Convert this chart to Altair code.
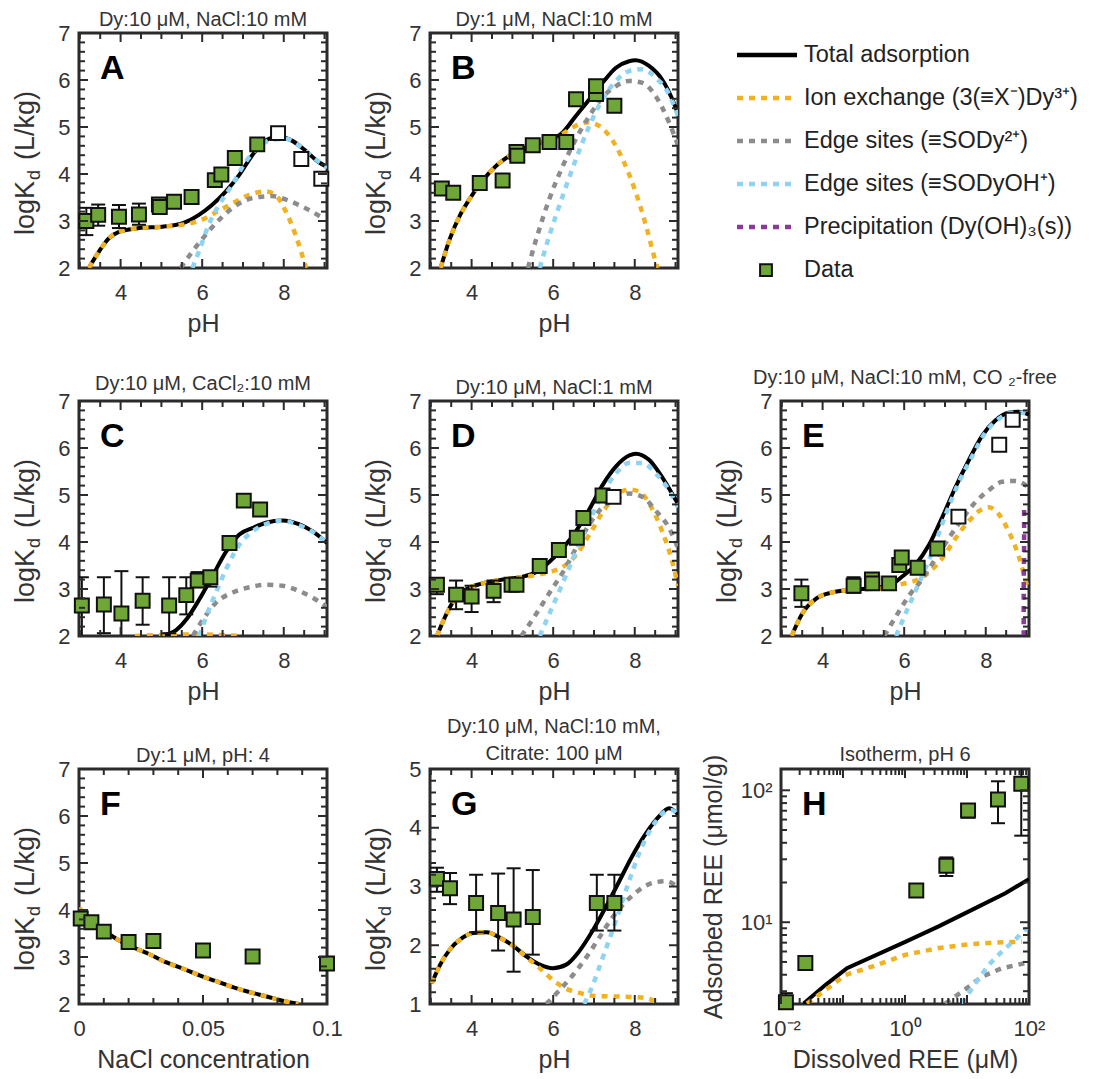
import altair as alt
import pandas as pd

FONT = "Liberation Sans"
TXT = "#333333"
FRAME = "#2b2b2b"
C_TOTAL = "#000000"
C_ION = "#F2B120"
C_EDGE1 = "#8C8C8C"
C_EDGE2 = "#8ED4F2"
C_PREC = "#8B3A9A"
C_DATA = "#6EA637"
W, H = 248, 235
PH_DOM = [2.98, 9.06]

# ---------------- Panel A: Dy 10 uM, NaCl 10 mM ----------------
A_px = [3.16, 3.45, 3.96, 4.45, 4.94, 4.96, 5.31, 5.74, 6.31, 6.47, 6.80, 7.35, 7.86, 8.43, 8.92]
A_py = [3.00, 3.13, 3.09, 3.14, 3.35, 3.30, 3.41, 3.51, 3.87, 3.99, 4.34, 4.63, 4.87, 4.32, 3.90]
A_open = [0, 0, 0, 0, 0, 0, 0, 0, 0, 0, 0, 0, 1, 1, 1]
A_ex = [3.16, 3.45, 3.96, 4.45]
A_elo = [2.70, 2.90, 2.85, 2.92]
A_ehi = [3.28, 3.35, 3.34, 3.37]
A_total = [(3.22, 2.0), (3.47, 2.35), (3.71, 2.63), (3.96, 2.77), (4.45, 2.85), (5.02, 2.88),
           (5.51, 2.95), (5.92, 3.13), (6.24, 3.34), (6.57, 3.62), (6.90, 3.97), (7.22, 4.39),
           (7.55, 4.71), (7.88, 4.80), (8.20, 4.71), (8.53, 4.50), (8.86, 4.25), (9.06, 4.15)]
A_ion = [(3.22, 2.0), (3.47, 2.35), (3.71, 2.63), (3.96, 2.77), (4.45, 2.85), (5.02, 2.88),
         (5.51, 2.92), (5.92, 3.0), (6.33, 3.18), (6.73, 3.37), (7.14, 3.55), (7.55, 3.63),
         (7.80, 3.55), (8.04, 3.22), (8.29, 2.70), (8.45, 2.28), (8.55, 2.0)]
A_edge1 = [(5.47, 2.0), (5.76, 2.35), (6.08, 2.70), (6.41, 3.02), (6.73, 3.27), (7.06, 3.44),
           (7.39, 3.51), (7.71, 3.53), (8.04, 3.46), (8.37, 3.34), (8.69, 3.20), (9.0, 3.04)]
A_edge2 = [(5.76, 2.0), (5.92, 2.35), (6.16, 2.92), (6.41, 3.34), (6.73, 3.76), (7.06, 4.25),
           (7.39, 4.58), (7.71, 4.73), (8.04, 4.75), (8.37, 4.61), (8.69, 4.38), (9.06, 4.13)]

# ---------------- Panel B: Dy 1 uM, NaCl 10 mM ----------------
B_px = [3.27, 3.55, 4.20, 4.76, 5.10, 5.12, 5.50, 5.91, 6.32, 6.56, 7.05, 7.05, 7.50]
B_py = [3.69, 3.60, 3.81, 3.86, 4.47, 4.39, 4.61, 4.68, 4.68, 5.59, 5.70, 5.87, 5.45]
B_open = [0] * 13
B_total = [(3.24, 2.0), (3.47, 2.63), (3.72, 3.13), (3.96, 3.48), (4.28, 3.87), (4.61, 4.18),
           (4.93, 4.39), (5.26, 4.54), (5.59, 4.64), (5.91, 4.71), (6.24, 4.89), (6.56, 5.24),
           (6.89, 5.59), (7.21, 5.94), (7.54, 6.26), (7.86, 6.40), (8.02, 6.42), (8.35, 6.30),
           (8.67, 6.01), (8.92, 5.59), (9.06, 5.28)]
B_ion = [(3.24, 2.0), (3.47, 2.63), (3.72, 3.13), (3.96, 3.48), (4.28, 3.87), (4.61, 4.18),
         (4.93, 4.39), (5.26, 4.54), (5.59, 4.64), (5.91, 4.70), (6.24, 4.86), (6.56, 5.03),
         (6.85, 5.10), (7.05, 5.06), (7.37, 4.82), (7.70, 4.32), (8.02, 3.62), (8.27, 2.92),
         (8.51, 2.14), (8.56, 2.0)]
B_edge1 = [(5.38, 2.0), (5.59, 2.63), (5.91, 3.48), (6.24, 4.18), (6.56, 4.75), (6.89, 5.24),
           (7.21, 5.63), (7.54, 5.87), (7.86, 5.98), (8.19, 5.94), (8.51, 5.66), (8.84, 5.10),
           (9.06, 4.61)]
B_edge2 = [(5.67, 2.0), (5.91, 2.70), (6.24, 3.55), (6.56, 4.32), (6.89, 5.03), (7.21, 5.59),
           (7.54, 5.98), (7.86, 6.19), (8.19, 6.23), (8.51, 6.05), (8.84, 5.70), (9.06, 5.24)]

# ---------------- Panel C: Dy 10 uM, CaCl2 10 mM ----------------
C_px = [3.05, 3.59, 4.02, 4.54, 5.19, 5.61, 5.89, 6.20, 6.67, 7.02, 7.42]
C_py = [2.65, 2.67, 2.48, 2.75, 2.65, 2.87, 3.18, 3.25, 3.98, 4.88, 4.69]
C_open = [0] * 11
C_ex = [3.05, 3.59, 4.02, 4.54, 5.19, 5.61, 5.89, 6.20]
C_elo = [1.95, 2.06, 1.95, 2.24, 2.06, 2.46, 3.04, 3.05]
C_ehi = [3.25, 3.25, 3.38, 3.25, 3.25, 3.25, 3.36, 3.33]
C_total = [(5.0, 2.0), (5.37, 2.13), (5.61, 2.35), (5.93, 2.78), (6.26, 3.29), (6.59, 3.80),
           (6.91, 4.16), (7.24, 4.30), (7.56, 4.41), (7.97, 4.46), (8.37, 4.38), (8.70, 4.23),
           (9.06, 3.98)]
C_ion = [(4.35, 2.0), (5.0, 2.02), (5.5, 2.03), (6.0, 2.03), (6.5, 2.02), (6.96, 2.0)]
C_edge1 = [(5.77, 2.0), (6.02, 2.35), (6.34, 2.71), (6.76, 2.93), (7.17, 3.04), (7.56, 3.09),
           (7.97, 3.07), (8.37, 2.96), (8.70, 2.82), (9.06, 2.62)]
C_edge2 = [(5.93, 2.0), (6.10, 2.42), (6.34, 2.93), (6.59, 3.43), (6.91, 3.94), (7.24, 4.23),
           (7.56, 4.38), (7.97, 4.45), (8.37, 4.36), (8.70, 4.22), (9.06, 3.98)]

# ---------------- Panel D: Dy 10 uM, NaCl 1 mM ----------------
D_px = [3.15, 3.62, 4.00, 4.54, 4.98, 5.10, 5.67, 6.14, 6.58, 6.74, 7.21, 7.48]
D_py = [3.09, 2.88, 2.84, 2.96, 3.09, 3.09, 3.49, 3.83, 4.09, 4.51, 4.99, 4.96]
D_open = [0, 0, 0, 0, 0, 0, 0, 0, 0, 0, 0, 1]
D_ex = [3.15, 3.62, 4.00, 4.54]
D_elo = [2.89, 2.57, 2.51, 2.72]
D_ehi = [3.23, 3.18, 3.07, 3.18]
D_total = [(3.15, 2.0), (3.39, 2.48), (3.63, 2.84), (3.96, 3.03), (4.37, 3.14), (4.77, 3.20),
           (5.18, 3.25), (5.59, 3.36), (5.91, 3.58), (6.24, 3.87), (6.56, 4.23), (6.89, 4.70),
           (7.21, 5.21), (7.54, 5.61), (7.86, 5.84), (8.02, 5.88), (8.35, 5.75), (8.67, 5.38),
           (8.92, 5.02), (9.06, 4.81)]
D_ion = [(3.15, 2.0), (3.39, 2.48), (3.63, 2.84), (3.96, 3.03), (4.37, 3.14), (4.77, 3.20),
         (5.18, 3.25), (5.59, 3.30), (5.91, 3.36), (6.24, 3.47), (6.56, 3.72), (6.89, 4.16),
         (7.21, 4.63), (7.54, 4.99), (7.86, 5.12), (8.11, 5.07), (8.43, 4.70), (8.67, 4.23),
         (8.92, 3.58), (9.06, 3.07)]
D_edge1 = [(5.22, 2.0), (5.59, 2.48), (5.91, 2.92), (6.24, 3.36), (6.56, 3.87), (6.89, 4.38),
           (7.21, 4.74), (7.54, 4.92), (7.86, 5.03), (8.19, 4.96), (8.51, 4.67), (8.84, 4.30),
           (9.06, 3.87)]
D_edge2 = [(5.67, 2.0), (5.91, 2.48), (6.24, 3.14), (6.56, 3.80), (6.89, 4.45), (7.21, 5.03),
           (7.54, 5.46), (7.86, 5.68), (8.19, 5.68), (8.51, 5.46), (8.84, 5.10), (9.06, 4.74)]

# ---------------- Panel E: CO2-free ----------------
E_px = [3.48, 4.76, 5.21, 5.22, 5.63, 5.88, 5.94, 6.33, 6.81, 7.33, 8.33, 8.66]
E_py = [2.91, 3.07, 3.20, 3.12, 3.12, 3.51, 3.67, 3.45, 3.86, 4.54, 6.07, 6.60]
E_open = [0, 0, 0, 0, 0, 0, 0, 0, 0, 1, 1, 1]
E_ex = [3.48, 4.76, 5.21, 5.63]
E_elo = [2.62, 2.92, 3.05, 3.00]
E_ehi = [3.20, 3.25, 3.28, 3.25]
E_total = [(3.24, 2.0), (3.51, 2.49), (3.85, 2.80), (4.25, 2.93), (4.66, 2.98), (5.15, 3.01),
           (5.63, 3.07), (5.96, 3.27), (6.28, 3.52), (6.61, 3.94), (6.93, 4.52), (7.26, 5.17),
           (7.59, 5.75), (7.91, 6.26), (8.24, 6.59), (8.56, 6.75), (8.80, 6.77), (9.06, 6.71)]
E_ion = [(3.24, 2.0), (3.51, 2.49), (3.85, 2.80), (4.25, 2.93), (4.66, 2.98), (5.15, 3.0),
         (5.63, 3.03), (5.96, 3.11), (6.28, 3.18), (6.61, 3.36), (6.93, 3.65), (7.26, 4.08),
         (7.59, 4.45), (7.91, 4.70), (8.07, 4.74), (8.32, 4.59), (8.56, 4.23), (8.80, 3.72),
         (9.01, 3.07)]
E_edge1 = [(5.51, 2.0), (5.80, 2.42), (6.12, 2.86), (6.45, 3.22), (6.77, 3.65), (7.10, 4.09),
           (7.42, 4.49), (7.75, 4.85), (8.07, 5.10), (8.40, 5.28), (8.72, 5.30), (9.01, 5.19)]
E_edge2 = [(5.80, 2.0), (6.04, 2.49), (6.37, 3.14), (6.69, 3.80), (7.02, 4.59), (7.33, 5.25),
           (7.67, 5.83), (7.99, 6.33), (8.32, 6.62), (8.64, 6.75), (8.89, 6.75), (9.06, 6.71)]
E_prec = [(8.93, 2.0), (8.93, 3.0), (8.94, 4.0), (8.94, 4.8)]

# ---------------- Panel F: NaCl concentration ----------------
F_px = [0.0007, 0.005, 0.01, 0.02, 0.03, 0.05, 0.07, 0.1]
F_py = [3.82, 3.74, 3.54, 3.32, 3.34, 3.14, 3.01, 2.86]
F_open = [0] * 8
F_total = [(0.0, 4.04), (0.004, 3.82), (0.008, 3.64), (0.015, 3.39), (0.0216, 3.21), (0.028, 3.07),
           (0.035, 2.89), (0.042, 2.75), (0.0486, 2.61), (0.055, 2.49), (0.062, 2.36), (0.069, 2.25),
           (0.0757, 2.16), (0.082, 2.07), (0.0885, 2.0)]
F_ion = [(0.0, 4.05), (0.004, 3.82), (0.008, 3.64), (0.015, 3.39), (0.0216, 3.21), (0.028, 3.07),
         (0.035, 2.89), (0.042, 2.75), (0.0486, 2.61), (0.055, 2.49), (0.062, 2.36), (0.069, 2.25),
         (0.0757, 2.16), (0.082, 2.07), (0.0885, 2.0)]

# ---------------- Panel G: citrate ----------------
G_px = [3.15, 3.47, 4.11, 4.65, 5.03, 5.50, 7.07, 7.50]
G_py = [3.13, 2.97, 2.72, 2.55, 2.44, 2.48, 2.72, 2.72]
G_open = [0] * 8
G_ex = G_px
G_elo = [2.91, 2.70, 2.22, 1.91, 1.55, 1.84, 2.25, 2.25]
G_ehi = [3.32, 3.23, 3.20, 3.22, 3.31, 3.28, 3.20, 3.20]
G_total = [(3.02, 1.35), (3.23, 1.67), (3.47, 1.93), (3.72, 2.10), (4.04, 2.21), (4.37, 2.22),
           (4.69, 2.13), (5.02, 1.99), (5.34, 1.81), (5.67, 1.67), (5.99, 1.61), (6.32, 1.67),
           (6.64, 1.90), (6.97, 2.25), (7.29, 2.65), (7.62, 3.09), (7.94, 3.52), (8.27, 3.90),
           (8.59, 4.19), (8.84, 4.33), (9.06, 4.23)]
G_ion = [(3.02, 1.35), (3.23, 1.67), (3.47, 1.93), (3.72, 2.10), (4.04, 2.21), (4.37, 2.22),
         (4.69, 2.13), (5.02, 1.99), (5.34, 1.80), (5.67, 1.61), (5.99, 1.41), (6.32, 1.26),
         (6.64, 1.19), (6.97, 1.14), (7.37, 1.13), (7.86, 1.12), (8.27, 1.10), (8.59, 1.01)]
G_edge1 = [(5.83, 1.0), (6.15, 1.23), (6.48, 1.49), (6.80, 1.78), (7.13, 2.13), (7.46, 2.48),
           (7.78, 2.74), (8.11, 2.94), (8.43, 3.06), (8.76, 3.09), (9.04, 3.0)]
G_edge2 = [(6.76, 1.0), (6.97, 1.32), (7.21, 1.78), (7.54, 2.42), (7.86, 3.09), (8.19, 3.70),
           (8.51, 4.10), (8.76, 4.28), (8.92, 4.30), (9.06, 4.22)]

# ---------------- Panel H: isotherm ----------------
H_px = [0.012, 0.0247, 1.52, 4.64, 10.4, 31.6, 75.0]
H_py = [2.47, 4.9, 17.4, 26.8, 70.3, 85.3, 112.0]
H_open = [0] * 7
H_ex = [0.012, 0.0247, 4.64, 10.4, 31.6, 75.0]
H_elo = [2.3, 4.6, 22.4, 62.0, 56.3, 45.3]
H_ehi = [2.9, 5.2, 31.0, 76.6, 117.0, 170.0]
H_total = [(0.0232, 2.42), (0.0519, 3.34), (0.116, 4.48), (1.01, 7.1), (3.49, 9.3),
           (12.0, 12.4), (41.5, 16.6), (100.0, 21.2)]
H_ion = [(0.0263, 2.42), (0.0519, 3.06), (0.109, 3.98), (0.294, 4.61), (1.01, 5.66),
         (3.49, 6.37), (12.0, 6.84), (41.5, 7.08), (77.0, 7.1)]
H_edge1 = [(4.47, 2.42), (8.3, 2.97), (17.4, 3.87), (36.7, 4.48), (87.0, 4.9)]
H_edge2 = [(8.3, 2.42), (13.6, 3.44), (22.4, 4.75), (36.7, 6.01), (60.2, 7.38), (93.0, 9.06)]

# ---------------- ticks ----------------
PH_XMAJ = [4, 6, 8]
PH_XMIN = [3.0, 3.5, 4.5, 5.0, 5.5, 6.5, 7.0, 7.5, 8.5, 9.0]
K_YMAJ = [2, 3, 4, 5, 6, 7]
K_YMIN = [round(2 + 0.2 * i, 1) for i in range(1, 25) if i % 5 != 0]
G_YMAJ = [1, 2, 3, 4, 5]
G_YMIN = [round(1 + 0.2 * i, 1) for i in range(1, 20) if i % 5 != 0]
F_XMAJ = [0, 0.05, 0.1]
F_XMIN = [round(0.01 * i, 2) for i in range(1, 10) if i != 5]
H_XMAJ = [0.01, 0.1, 1, 10, 100]
H_XMIN = [k * 10.0 ** e for e in (-2, -1, 0, 1) for k in range(2, 10)]
H_YMAJ = [10, 100]
H_YMIN = [3, 4, 5, 6, 7, 8, 9, 20, 30, 40, 50, 60, 70, 80, 90]

# ---------------- legend ----------------
LEG_LABELS = ["Total adsorption", "Ion exchange (3(≡X⁻)Dy³⁺)", "Edge sites (≡SODy²⁺)",
              "Edge sites (≡SODyOH⁺)", "Precipitation (Dy(OH)₃(s))", "Data"]
LEG_COLORS = [C_TOTAL, C_ION, C_EDGE1, C_EDGE2, C_PREC]

MAJ, MIN = 9, 6


def mkscale(dom, typ):
    if typ == "log":
        return alt.Scale(domain=dom, type="log", nice=False)
    return alt.Scale(domain=dom, nice=False, zero=False)


def mkaxis(vals, title, fmt=None, expr=None, tpad=6, lpad=9):
    kw = dict(values=vals, ticks=False, domain=False, grid=False, labelFontSize=22, labelPadding=lpad,
              labelColor=TXT, labelFont=FONT, titleFontSize=25, titleFontWeight="normal",
              titleColor=TXT, titleFont=FONT, titlePadding=tpad, labelFlush=False,
              labelOverlap=False, title=title)
    if fmt is not None:
        kw["format"] = fmt
    if expr is not None:
        kw["labelExpr"] = expr
    return alt.Axis(**kw)


def pts_df(pairs):
    return pd.DataFrame({"x": [p[0] for p in pairs], "y": [p[1] for p in pairs],
                         "i": list(range(len(pairs)))})


def panel(letter, title, xdom, ydom, curves, px, py, popen, ex, elo, ehi,
          xmaj, xmin, ymaj, ymin, xlab, ylab, xtitle, ytitle=None,
          xtype="linear", ytype="linear", xfmt=None, xexpr=None, yexpr=None, interp="monotone",
          toff=-8):
    xsc = mkscale(xdom, xtype)
    ysc = mkscale(ydom, ytype)
    xax = mkaxis(xlab, xtitle, fmt=xfmt, expr=xexpr, tpad=8, lpad=14)
    yax = mkaxis(ylab, ytitle, expr=yexpr, tpad=14, lpad=9)
    X = alt.X("x:Q", scale=xsc, axis=xax)
    Y = alt.Y("y:Q", scale=ysc, axis=yax)
    layers = []
    for pairs, color, dashed in curves:
        mk = dict(color=color, clip=True, interpolate=interp, strokeCap="butt")
        if dashed:
            mk["strokeDash"] = [6, 6]
            mk["strokeWidth"] = 4.5
        else:
            mk["strokeWidth"] = 4
        layers.append(alt.Chart(pts_df(pairs)).mark_line(**mk).encode(x=X, y=Y, order="i:Q"))
    if ex:
        edf = pd.DataFrame({"x": ex, "lo": elo, "hi": ehi})
        layers.append(alt.Chart(edf).mark_rule(color="#111", strokeWidth=2, clip=True).encode(
            x=X, y=alt.Y("lo:Q", scale=ysc, axis=yax), y2="hi:Q"))
        for f in ("lo", "hi"):
            layers.append(alt.Chart(edf).mark_rule(color="#111", strokeWidth=2, clip=True,
                                                   xOffset=-7, x2Offset=7).encode(
                x=X, x2="x:Q", y=alt.Y(f + ":Q", scale=ysc, axis=yax)))
    pdf = pd.DataFrame({"x": px, "y": py,
                        "f": ["white" if o else C_DATA for o in popen]})
    layers.append(alt.Chart(pdf).mark_square(size=195, stroke="#111", strokeWidth=2, opacity=1).encode(
        x=X, y=Y, fill=alt.Fill("f:N", scale=None)))
    # inside ticks (mirrored on all four sides)
    for vals, ln in ((xmaj, MAJ), (xmin, MIN)):
        tdf = pd.DataFrame({"x": vals})
        r = alt.Chart(tdf).mark_rule(color=FRAME, strokeWidth=2)
        layers.append(r.encode(x=X, y=alt.value(H), y2=alt.value(H - ln)))
        layers.append(r.encode(x=X, y=alt.value(0), y2=alt.value(ln)))
    for vals, ln in ((ymaj, MAJ), (ymin, MIN)):
        tdf = pd.DataFrame({"y": vals})
        r = alt.Chart(tdf).mark_rule(color=FRAME, strokeWidth=2)
        layers.append(r.encode(y=Y, x=alt.value(0), x2=alt.value(ln)))
        layers.append(r.encode(y=Y, x=alt.value(W), x2=alt.value(W - ln)))
    # panel letter
    layers.append(alt.Chart(pd.DataFrame({"t": [letter]})).mark_text(
        font=FONT, fontSize=34, fontWeight="bold", align="left", baseline="middle", color="black"
    ).encode(x=alt.value(21), y=alt.value(36), text="t:N"))
    # y title logK_d (L/kg) with a real subscript
    if ytitle is None:
        y0 = 202
        parts = [("logK", 27, 0, y0), ("d", 18, 9, y0 - 55), ("(L/kg)", 27, 0, y0 - 75)]
        for txt, fs, dx, yy in parts:
            layers.append(alt.Chart(pd.DataFrame({"t": [txt]})).mark_text(
                font=FONT, fontSize=fs, angle=270, align="left", baseline="middle", color=TXT
            ).encode(x=alt.value(-53 + dx), y=alt.value(yy), text="t:N"))
    tp = alt.TitleParams(text=title, font=FONT, fontSize=20, fontWeight="normal", color=TXT,
                         offset=toff, anchor="middle", lineHeight=27, frame="group")
    return alt.layer(*layers).properties(width=W, height=H, title=tp)


pA = panel("A", "Dy:10 μM, NaCl:10 mM", PH_DOM, [2, 7],
           [(A_total, C_TOTAL, False), (A_ion, C_ION, True), (A_edge1, C_EDGE1, True), (A_edge2, C_EDGE2, True)],
           A_px, A_py, A_open, A_ex, A_elo, A_ehi, PH_XMAJ, PH_XMIN, K_YMAJ, K_YMIN,
           PH_XMAJ, K_YMAJ, "pH", xfmt="d", toff=-8)
pB = panel("B", "Dy:1 μM, NaCl:10 mM", PH_DOM, [2, 7],
           [(B_total, C_TOTAL, False), (B_ion, C_ION, True), (B_edge1, C_EDGE1, True), (B_edge2, C_EDGE2, True)],
           B_px, B_py, B_open, [], [], [], PH_XMAJ, PH_XMIN, K_YMAJ, K_YMIN,
           PH_XMAJ, K_YMAJ, "pH", xfmt="d", toff=-8)
pC = panel("C", "Dy:10 μM, CaCl₂:10 mM", PH_DOM, [2, 7],
           [(C_total, C_TOTAL, False), (C_ion, C_ION, True), (C_edge1, C_EDGE1, True), (C_edge2, C_EDGE2, True)],
           C_px, C_py, C_open, C_ex, C_elo, C_ehi, PH_XMAJ, PH_XMIN, K_YMAJ, K_YMIN,
           PH_XMAJ, K_YMAJ, "pH", xfmt="d", toff=-4)
pD = panel("D", "Dy:10 μM, NaCl:1 mM", PH_DOM, [2, 7],
           [(D_total, C_TOTAL, False), (D_ion, C_ION, True), (D_edge1, C_EDGE1, True), (D_edge2, C_EDGE2, True)],
           D_px, D_py, D_open, D_ex, D_elo, D_ehi, PH_XMAJ, PH_XMIN, K_YMAJ, K_YMIN,
           PH_XMAJ, K_YMAJ, "pH", xfmt="d", toff=-8)
pE = panel("E", "Dy:10 μM, NaCl:10 mM, CO ₂-free", PH_DOM, [2, 7],
           [(E_total, C_TOTAL, False), (E_ion, C_ION, True), (E_edge1, C_EDGE1, True), (E_edge2, C_EDGE2, True),
            (E_prec, C_PREC, True)],
           E_px, E_py, E_open, E_ex, E_elo, E_ehi, PH_XMAJ, PH_XMIN, K_YMAJ, K_YMIN,
           PH_XMAJ, K_YMAJ, "pH", xfmt="d", toff=2)
pF = panel("F", "Dy:1 μM, pH: 4", [0, 0.1], [2, 7],
           [(F_total, C_TOTAL, False), (F_ion, C_ION, True)],
           F_px, F_py, F_open, [], [], [], F_XMAJ, F_XMIN, K_YMAJ, K_YMIN,
           F_XMAJ, K_YMAJ, "NaCl concentration", xfmt="~g", toff=-8)
pG = panel("G", ["Dy:10 μM, NaCl:10 mM,", "Citrate: 100 μM"], PH_DOM, [1, 5],
           [(G_total, C_TOTAL, False), (G_ion, C_ION, True), (G_edge1, C_EDGE1, True), (G_edge2, C_EDGE2, True)],
           G_px, G_py, G_open, G_ex, G_elo, G_ehi, PH_XMAJ, PH_XMIN, G_YMAJ, G_YMIN,
           PH_XMAJ, G_YMAJ, "pH", xfmt="d", toff=-6)
pH = panel("H", "Isotherm, pH 6", [0.01, 100], [2.4, 145],
           [(H_total, C_TOTAL, False), (H_ion, C_ION, True), (H_edge1, C_EDGE1, True), (H_edge2, C_EDGE2, True)],
           H_px, H_py, H_open, H_ex, H_elo, H_ehi, H_XMAJ, H_XMIN, H_YMAJ, H_YMIN,
           [0.01, 1, 100], [10, 100], "Dissolved REE (μM)", ytitle="Adsorbed REE (μmol/g)",
           xtype="log", ytype="log",
           xexpr="datum.value < 0.1 ? '10⁻²' : (datum.value < 10 ? '10⁰' : '10²')",
           yexpr="datum.value < 50 ? '10¹' : '10²'", interp="linear", toff=-11)

# ---------------- legend panel ----------------
leg_df = pd.DataFrame({"idx": list(range(6)), "lab": LEG_LABELS})
line_df = pd.DataFrame({"idx": list(range(5)), "c": LEG_COLORS})
LY = alt.Y("idx:Q", scale=alt.Scale(domain=[-0.51, 4.95], reverse=True, nice=False, zero=False), axis=None)
leg_layers = [
    alt.Chart(line_df.iloc[:1]).mark_rule(strokeWidth=4.5, strokeCap="butt").encode(
        y=LY, x=alt.value(-44), x2=alt.value(16), color=alt.Color("c:N", scale=None)),
    alt.Chart(line_df.iloc[1:]).mark_rule(strokeWidth=4.5, strokeDash=[6, 6], strokeCap="butt").encode(
        y=LY, x=alt.value(-44), x2=alt.value(16), color=alt.Color("c:N", scale=None)),
    alt.Chart(leg_df.iloc[5:]).mark_square(size=140, fill=C_DATA, stroke="#111", strokeWidth=2, opacity=1).encode(
        y=LY, x=alt.value(-15)),
    alt.Chart(leg_df).mark_text(font=FONT, fontSize=23.5, align="left", baseline="middle", color="#222").encode(
        y=LY, x=alt.value(23), text="lab:N"),
]
pL = alt.layer(*leg_layers).properties(width=W, height=H, view=alt.ViewBackground(stroke="transparent"))

chart = alt.concat(pA, pB, pL, pC, pD, pE, pF, pG, pH, columns=3,
                   spacing={"row": 133, "column": 103}, bounds="flush").configure_view(
    stroke=FRAME, strokeWidth=3).properties(padding={"left": 10, "top": 8, "right": 0, "bottom": 0},
                                            background="white")

chart.save("out.html", embed_options={"renderer": "svg", "actions": False})
